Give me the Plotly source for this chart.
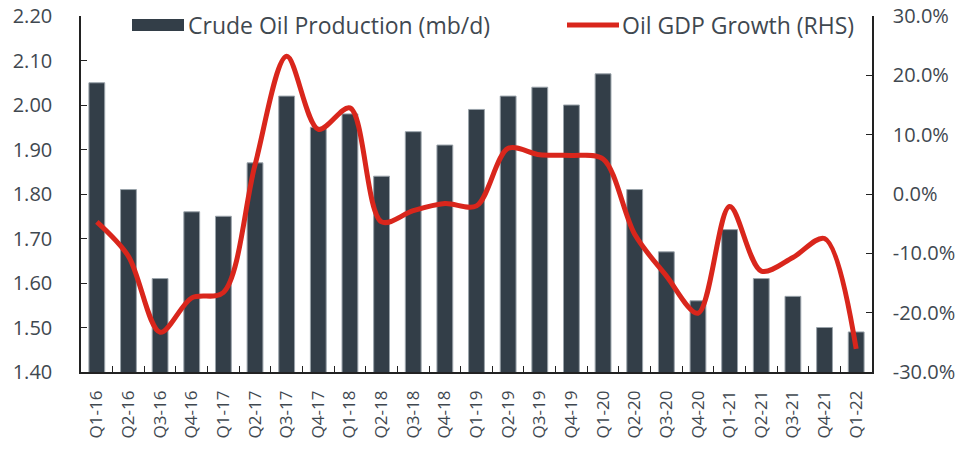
import plotly.graph_objects as go

quarters = ["Q1-16","Q2-16","Q3-16","Q4-16","Q1-17","Q2-17","Q3-17","Q4-17","Q1-18","Q2-18",
            "Q3-18","Q4-18","Q1-19","Q2-19","Q3-19","Q4-19","Q1-20","Q2-20","Q3-20","Q4-20",
            "Q1-21","Q2-21","Q3-21","Q4-21","Q1-22"]
production = [2.05,1.81,1.61,1.76,1.75,1.87,2.02,1.95,1.98,1.84,
              1.94,1.91,1.99,2.02,2.04,2.00,2.07,1.81,1.67,1.56,
              1.72,1.61,1.57,1.50,1.49]
gdp_growth = [-4.7,-10.5,-23.3,-17.5,-16.6,4.9,23.2,10.9,14.5,-4.7,
              -2.8,-1.6,-2.0,7.7,6.6,6.5,5.9,-6.8,-13.8,-20.1,
              -2.1,-13.0,-10.7,-7.5,-26.1]
left_ticks = [1.40,1.50,1.60,1.70,1.80,1.90,2.00,2.10,2.20]
right_ticks = [-30,-20,-10,0,10,20,30]

BAR = "#333e48"
RED = "#d9261c"
TXT = "#3f4850"
FONT = "Open Sans"

fig = go.Figure()
fig.add_trace(go.Bar(x=quarters, y=production, name="Crude Oil Production (mb/d)",
                     marker=dict(color=BAR, line=dict(color="#9aa3aa", width=1)),
                     width=0.5, showlegend=False))
fig.add_trace(go.Scatter(x=quarters, y=gdp_growth, name="Oil GDP Growth (RHS)", yaxis="y2",
                         mode="lines", line=dict(color=RED, width=5, shape="spline", smoothing=0.9),
                         showlegend=False))

axis_common = dict(showline=True, linecolor="#222222", linewidth=1.5, showgrid=False,
                   zeroline=False, ticks="inside", ticklen=6, tickcolor="#222222",
                   automargin=False,
                   tickfont=dict(family=FONT, size=20, color=TXT))

fig.update_layout(
    width=980, height=452,
    margin=dict(l=81, r=108, t=16, b=80),
    paper_bgcolor="white", plot_bgcolor="white",
    bargap=0.5,
    xaxis=dict(showline=True, linecolor="#222222", linewidth=1.5, showgrid=False,
               ticks="inside", ticklen=6, tickcolor="#222222", tickson="boundaries",
               tickangle=-90, tickfont=dict(family=FONT, size=17, color=TXT),
               ticklabelstandoff=10, automargin=False),
    yaxis=dict(range=[1.40, 2.20], tickvals=left_ticks,
               ticktext=[f"{v:.2f}" for v in left_ticks], ticklabelstandoff=23, **axis_common),
    yaxis2=dict(range=[-30, 30], tickvals=right_ticks,
                ticktext=[f"{v:.1f}%" for v in right_ticks], overlaying="y", side="right",
                ticklabelstandoff=15, **axis_common),
)

# legend drawn manually
fig.add_shape(type="rect", xref="paper", yref="paper",
              x0=(132-81)/791, x1=(184-81)/791, y0=1-(19-16)/356, y1=1-(31-16)/356,
              fillcolor=BAR, line=dict(width=0))
fig.add_annotation(xref="paper", yref="paper", x=(186-81)/791, y=1-(25-16)/356,
                   text="Crude Oil Production (mb/d)", showarrow=False, xanchor="left",
                   yanchor="middle", font=dict(family=FONT, size=23, color=TXT))
fig.add_shape(type="line", xref="paper", yref="paper",
              x0=(567-81)/791, x1=(619-81)/791, y0=1-(25-16)/356, y1=1-(25-16)/356,
              line=dict(color=RED, width=5))
fig.add_annotation(xref="paper", yref="paper", x=(620-81)/791, y=1-(25-16)/356,
                   text="Oil GDP Growth (RHS)", showarrow=False, xanchor="left",
                   yanchor="middle", font=dict(family=FONT, size=23, color=TXT))

fig.write_html("out.html", config={"displayModeBar": False},
               post_script="document.body.style.margin='0';")
